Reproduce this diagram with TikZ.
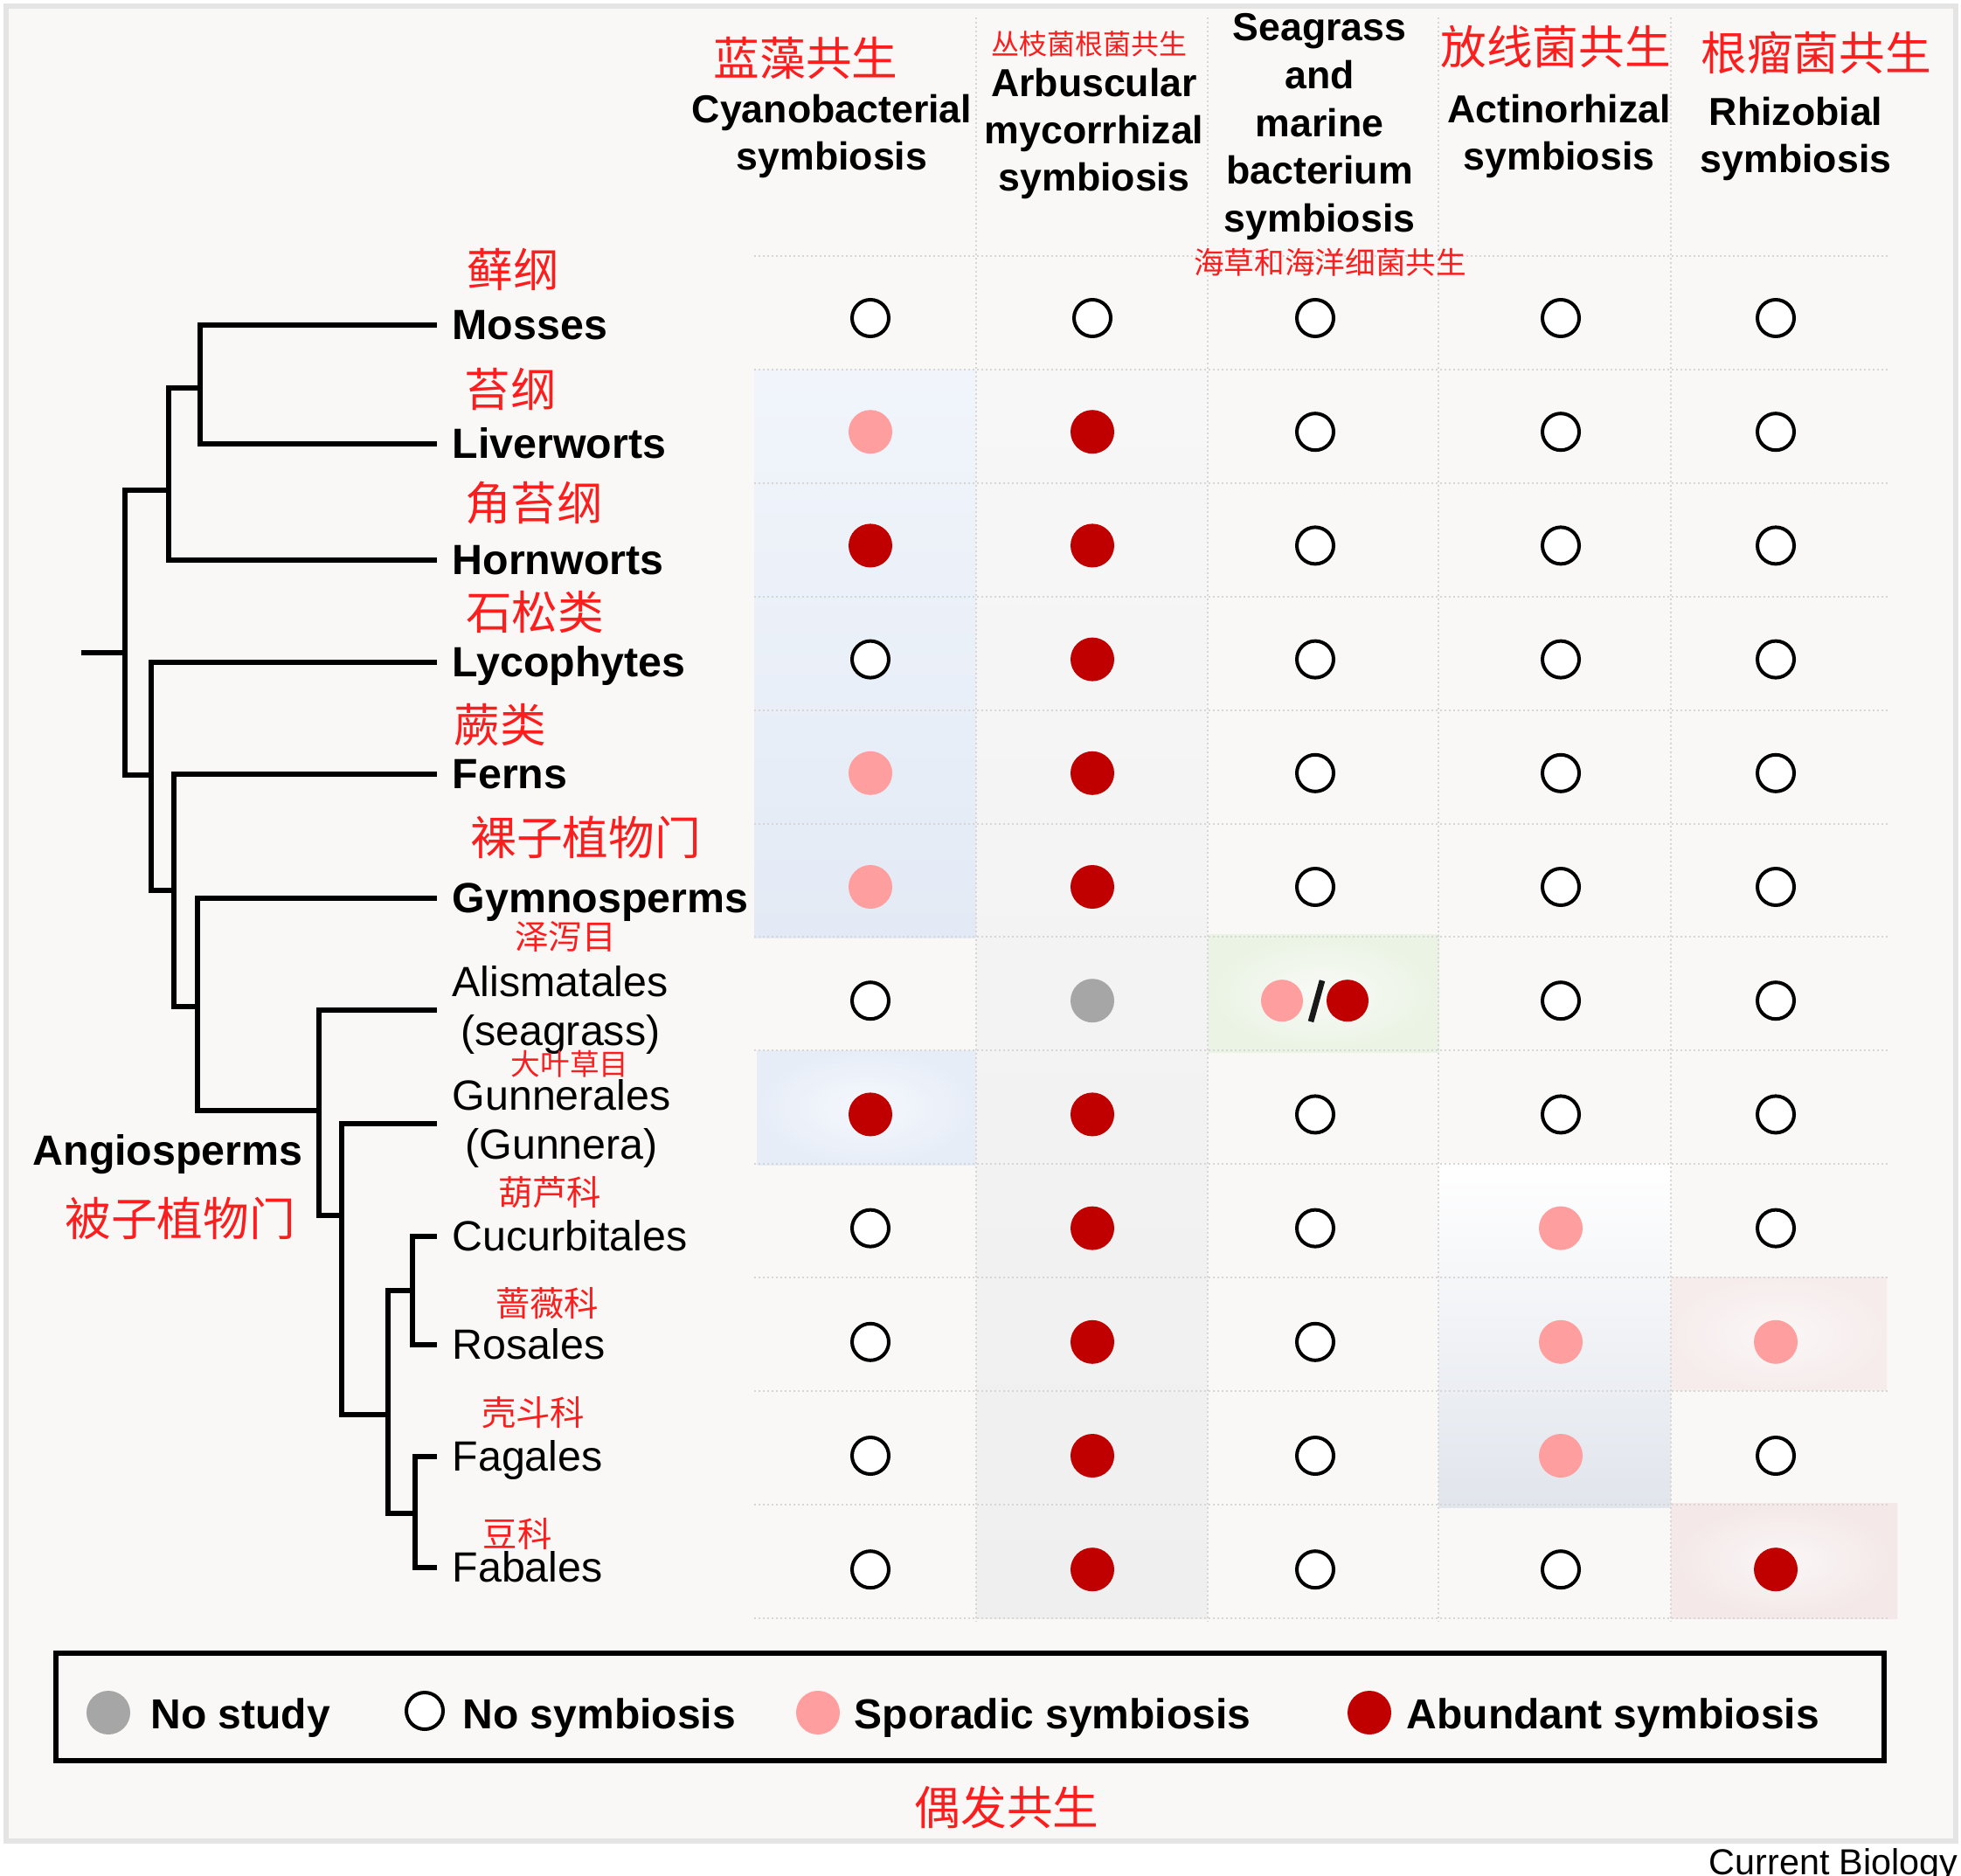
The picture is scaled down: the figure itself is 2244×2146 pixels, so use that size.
\documentclass[tikz,border=0pt]{standalone}
\usepackage{fontspec}
\setmainfont{Liberation Sans}
\newfontfamily\cjk{Noto Sans CJK SC}
\usepackage{tikz}

\definecolor{abundred}{RGB}{192,0,0}
\definecolor{sporpink}{RGB}{255,158,158}
\definecolor{studygray}{RGB}{166,166,166}
\definecolor{cnred}{RGB}{250,30,30}
\definecolor{panel}{RGB}{249,248,246}
\definecolor{panelline}{RGB}{228,228,228}
\definecolor{gridgray}{RGB}{214,214,214}

\begin{document}
\begin{tikzpicture}[x=0.3pt, y=-0.3pt,
    branch/.style={line width=1.8pt, line join=miter},
    taxa/.style={anchor=west, inner xsep=5.1pt, inner ysep=0pt, font=\fontsize{14.5}{16.8}\selectfont},
    taxon/.style={taxa, text height=10pt, text depth=0pt},
    taxonb/.style={taxon, font=\bfseries\fontsize{14.5}{16.8}\selectfont},
    head/.style={anchor=north, align=center, inner sep=0pt, font=\bfseries\fontsize{13.4}{16.2}\selectfont},
    cnbig/.style={inner sep=0pt, text=cnred, font=\cjk\fontsize{15.8}{18}\selectfont},
    cnsmall/.style={inner sep=0pt, text=cnred, font=\cjk\fontsize{11.8}{14}\selectfont},
    nosym/.style={circle, draw=black, fill=white, line width=1.2pt, minimum size=12.6pt, inner sep=0pt},
    spor/.style={circle, fill=sporpink, minimum size=15pt, inner sep=0pt},
    abund/.style={circle, fill=abundred, minimum size=15pt, inner sep=0pt},
    nost/.style={circle, fill=studygray, minimum size=15pt, inner sep=0pt},
    gridline/.style={gridgray, line width=0.6pt, dash pattern=on 0.6pt off 0.9pt},
    key/.style={anchor=base west, inner sep=0pt, font=\bfseries\fontsize{14.4}{16}\selectfont}]

  \useasboundingbox (0,0) rectangle (2244,2146);
  \fill[white] (0,0) rectangle (2244,2146);
  \draw[panelline, line width=1.6pt, fill=panel] (7,7) rectangle (2238,2107);

  % shaded cells
  \shade[top color={rgb,255:red,241;green,245;blue,251}, bottom color={rgb,255:red,227;green,234;blue,245}] (863,423) rectangle (1117,1073);
  \shade[inner color={rgb,255:red,245;green,248;blue,253}, outer color={rgb,255:red,231;green,237;blue,247}] (866,1202) rectangle (1117,1333);
  \shade[top color={rgb,255:red,247;green,247;blue,247}, bottom color={rgb,255:red,239;green,239;blue,239}] (1117,423) rectangle (1382,1852);
  \shade[inner color={rgb,255:red,249;green,250;blue,247}, outer color={rgb,255:red,234;green,243;blue,228}] (1382,1069) rectangle (1647,1204);
  \shade[top color=white, bottom color={rgb,255:red,225;green,229;blue,236}] (1646,1331) rectangle (1912,1725);
  \shade[inner color={rgb,255:red,250;green,247;blue,246}, outer color={rgb,255:red,246;green,236;blue,236}] (1912,1461) rectangle (2159,1591);
  \shade[inner color={rgb,255:red,250;green,246;blue,246}, outer color={rgb,255:red,244;green,232;blue,232}] (1912,1720) rectangle (2171,1852);

  % grid
  \foreach \k in {0,...,12}
    \draw[gridline] (863,{293+129.9*\k}) -- (2160,{293+129.9*\k});
  \foreach \x in {1117,1382,1646,1912}
    \draw[gridline] (\x,20) -- (\x,1855);

  % column headers
  \node[cnbig] (cyano-cn) at (922,67) {蓝藻共生};
  \node[head] (cyano) at (952,107) {Cyanobacterial\\symbiosis};
  \node[cnsmall, font=\cjk\fontsize{9.6}{11}\selectfont] (amf-cn) at (1246,50) {丛枝菌根菌共生};
  \node[head] (amf) at (1252,77) {Arbuscular\\mycorrhizal\\symbiosis};
  \node[head, font=\bfseries\fontsize{13.4}{16.4}\selectfont] (seagrass) at (1510,15) {Seagrass\\and\\marine\\bacterium\\symbiosis};
  \node[cnsmall, font=\cjk\fontsize{10.4}{12}\selectfont] (seagrass-cn) at (1522,300) {海草和海洋细菌共生};
  \node[cnbig] (actino-cn) at (1780,53) {放线菌共生};
  \node[head] (actino) at (1784,107) {Actinorhizal\\symbiosis};
  \node[cnbig] (rhizo-cn) at (2078,60) {根瘤菌共生};
  \node[head] (rhizo) at (2055,110) {Rhizobial\\symbiosis};

  % taxa
  \node[taxonb] (mosses) at (500,372) {Mosses};
  \node[taxonb] (liverworts) at (500,508) {Liverworts};
  \node[taxonb] (hornworts) at (500,641) {Hornworts};
  \node[taxonb] (lycophytes) at (500,758) {Lycophytes};
  \node[taxonb] (ferns) at (500,886) {Ferns};
  \node[taxonb] (gymnosperms) at (500,1028) {Gymnosperms};
  \node[taxa, align=center] (alismatales) at (500,1156) {Alismatales\\(seagrass)};
  \node[taxa, align=center] (gunnerales) at (500,1286) {Gunnerales\\(Gunnera)};
  \node[taxon] (cucurbitales) at (500,1415) {Cucurbitales};
  \node[taxon] (rosales) at (500,1539) {Rosales};
  \node[taxon] (fagales) at (500,1667) {Fagales};
  \node[taxon] (fabales) at (500,1794) {Fabales};

  \node[cnbig] (mosses-cn) at (587,308) {藓纲};
  \node[cnbig] (liverworts-cn) at (584,445) {苔纲};
  \node[cnbig] (hornworts-cn) at (611,576) {角苔纲};
  \node[cnbig] (lycophytes-cn) at (612,700) {石松类};
  \node[cnbig] (ferns-cn) at (572,830) {蕨类};
  \node[cnbig] (gymnosperms-cn) at (670,958) {裸子植物门};
  \node[cnsmall, font=\cjk\fontsize{11.6}{14}\selectfont] (alismatales-cn) at (647,1072) {泽泻目};
  \node[cnsmall, font=\cjk\fontsize{10.1}{12}\selectfont] (gunnerales-cn) at (652,1218) {大叶草目};
  \node[cnsmall] (cucurbitales-cn) at (629,1365) {葫芦科};
  \node[cnsmall] (rosales-cn) at (626,1492) {蔷薇科};
  \node[cnsmall] (fagales-cn) at (610,1617) {壳斗科};
  \node[cnsmall] (fabales-cn) at (592,1755) {豆科};

  \node[anchor=base, inner sep=0pt, font=\bfseries\fontsize{14.5}{16.8}\selectfont] (angio-lab) at (192,1333) {Angiosperms};
  \node[cnbig] (angio-cn) at (206,1394) {被子植物门};

  % tree
  \coordinate (root0) at (93,747);
  \coordinate (land) at (143,747);
  \coordinate (bryo) at (193,561);
  \coordinate (mossliv) at (229,444);
  \coordinate (vasc) at (173,887);
  \coordinate (euphyl) at (199,1019);
  \coordinate (seed) at (226,1152);
  \coordinate (angio) at (365,1271);
  \coordinate (mesang) at (391,1391);
  \coordinate (core) at (444,1619);
  \coordinate (cucros) at (472,1477);
  \coordinate (fagfab) at (475,1732);

  \draw[branch] (root0) -- (land);
  \draw[branch] (land) |- (bryo);
  \draw[branch] (land) |- (vasc);
  \draw[branch] (bryo) |- (mossliv);
  \draw[branch] (bryo) |- (hornworts.west);
  \draw[branch] (mossliv) |- (mosses.west);
  \draw[branch] (mossliv) |- (liverworts.west);
  \draw[branch] (vasc) |- (lycophytes.west);
  \draw[branch] (vasc) |- (euphyl);
  \draw[branch] (euphyl) |- (ferns.west);
  \draw[branch] (euphyl) |- (seed);
  \draw[branch] (seed) |- (gymnosperms.west);
  \draw[branch] (seed) |- (angio);
  \draw[branch] (angio) |- (alismatales.west);
  \draw[branch] (angio) |- (mesang);
  \draw[branch] (mesang) |- (gunnerales.west);
  \draw[branch] (mesang) |- (core);
  \draw[branch] (core) |- (cucros);
  \draw[branch] (core) |- (fagfab);
  \draw[branch] (cucros) |- (cucurbitales.west);
  \draw[branch] (cucros) |- (rosales.west);
  \draw[branch] (fagfab) |- (fagales.west);
  \draw[branch] (fagfab) |- (fabales.west);

  % symbiosis matrix
  \foreach \x [count=\k] in {996,1250,1505,1786,2032}
    \coordinate (col\k) at (\x,0);
  \foreach \r in {1,...,12}
    \coordinate (row\r) at (0,{364+130.2*(\r-1)});

  \foreach \s [count=\k] in {nosym,nosym,nosym,nosym,nosym} \node[\s] (c1-\k) at (col\k |- row1) {};
  \foreach \s [count=\k] in {spor,abund,nosym,nosym,nosym} \node[\s] (c2-\k) at (col\k |- row2) {};
  \foreach \s [count=\k] in {abund,abund,nosym,nosym,nosym} \node[\s] (c3-\k) at (col\k |- row3) {};
  \foreach \s [count=\k] in {nosym,abund,nosym,nosym,nosym} \node[\s] (c4-\k) at (col\k |- row4) {};
  \foreach \s [count=\k] in {spor,abund,nosym,nosym,nosym} \node[\s] (c5-\k) at (col\k |- row5) {};
  \foreach \s [count=\k] in {spor,abund,nosym,nosym,nosym} \node[\s] (c6-\k) at (col\k |- row6) {};
  \foreach \s/\k in {nosym/1,nost/2,nosym/4,nosym/5} \node[\s] (c7-\k) at (col\k |- row7) {};
  \foreach \s [count=\k] in {abund,abund,nosym,nosym,nosym} \node[\s] (c8-\k) at (col\k |- row8) {};
  \foreach \s [count=\k] in {nosym,abund,nosym,spor,nosym} \node[\s] (c9-\k) at (col\k |- row9) {};
  \foreach \s [count=\k] in {nosym,abund,nosym,spor,spor} \node[\s] (c10-\k) at (col\k |- row10) {};
  \foreach \s [count=\k] in {nosym,abund,nosym,spor,nosym} \node[\s] (c11-\k) at (col\k |- row11) {};
  \foreach \s [count=\k] in {nosym,abund,nosym,nosym,abund} \node[\s] (c12-\k) at (col\k |- row12) {};

  % seagrass: sporadic / abundant
  \coordinate (c7-3) at (col3 |- row7);
  \node[spor, minimum size=14.4pt] (c7-3a) at ([xshift=-11.4pt]c7-3) {};
  \node[abund, minimum size=14.4pt] (c7-3b) at ([xshift=11.1pt]c7-3) {};
  \draw[line width=2pt, black!90] ([xshift=2.4pt,yshift=6.9pt]c7-3) -- ([xshift=-1.5pt,yshift=-7.2pt]c7-3);

  % legend
  \draw[line width=1.8pt] (64,1892) rectangle (2156,2015);
  \node[nost] (key-nost) at (124,1960) {};
  \node[key] (key-nost-t) at (172,1978) {No study};
  \node[nosym] (key-nosym) at (486,1958) {};
  \node[key] (key-nosym-t) at (529,1978) {No symbiosis};
  \node[spor] (key-spor) at (936,1960) {};
  \node[key] (key-spor-t) at (977,1978) {Sporadic symbiosis};
  \node[abund] (key-abund) at (1567,1960) {};
  \node[key] (key-abund-t) at (1609,1978) {Abundant symbiosis};
  \node[cnbig] (key-spor-cn) at (1152,2068) {偶发共生};

  \node[anchor=base west, inner sep=0pt, font=\fontsize{12.4}{14}\selectfont] (journal) at (1955,2145) {Current Biology};
\end{tikzpicture}
\end{document}
